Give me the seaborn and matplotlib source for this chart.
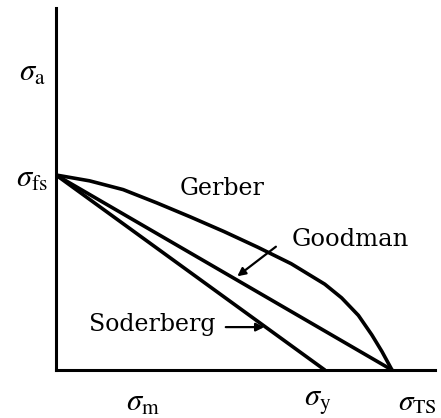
import numpy as np
import pandas as pd
import matplotlib
matplotlib.use('Agg')
import matplotlib.pyplot as plt
import seaborn as sns

# Normalised stresses (sigma_m / sigma_TS, sigma_a / sigma_fs)
sigma_ts = 1.0
sigma_y = 0.8
sigma_fs = 1.0

gerber_m = [0.0, 0.1, 0.2, 0.3, 0.4, 0.5, 0.6, 0.7, 0.8, 0.85, 0.9, 0.94, 0.97, 1.0]
gerber_a = [1.0, 0.97, 0.925, 0.857, 0.785, 0.71, 0.63, 0.545, 0.44, 0.37, 0.28, 0.18, 0.095, 0.0]
goodman_m = [0.0, sigma_ts]
goodman_a = [sigma_fs, 0.0]
soderberg_m = [0.0, sigma_y]
soderberg_a = [sigma_fs, 0.0]

sns.set_style('white')
plt.rcParams['font.family'] = ['DejaVu Serif']
plt.rcParams['mathtext.fontset'] = 'stix'
plt.rcParams['text.color'] = 'black'

fig = plt.figure(figsize=(4.41, 4.18), dpi=100)
ax = fig.add_axes([56 / 441, 48 / 418, 379 / 441, 362 / 418])

lines = pd.concat([
    pd.DataFrame({'m': gerber_m, 'a': gerber_a, 'crit': 'Gerber'}),
    pd.DataFrame({'m': goodman_m, 'a': goodman_a, 'crit': 'Goodman'}),
    pd.DataFrame({'m': soderberg_m, 'a': soderberg_a, 'crit': 'Soderberg'}),
])
for name, grp in lines.groupby('crit'):
    sns.lineplot(data=grp, x='m', y='a', ax=ax, color='black', lw=2.6,
                 sort=False, estimator=None, legend=False,
                 solid_joinstyle='round', solid_capstyle='round')

ax.set_xlim(0, 379 / 336)
ax.set_ylim(0, 362 / 195)
ax.set_xticks([])
ax.set_yticks([])
ax.set_xlabel('')
ax.set_ylabel('')
for s in ['top', 'right']:
    ax.spines[s].set_visible(False)
for s in ['left', 'bottom']:
    ax.spines[s].set_color('black')
    ax.spines[s].set_linewidth(2.2)

# curve labels
ax.text(0.494, 0.933, 'Gerber', fontsize=17, ha='center', va='center')
ax.text(0.875, 0.667, 'Goodman', fontsize=17.5, ha='center', va='center')
ax.text(0.286, 0.231, 'Soderberg', fontsize=17, ha='center', va='center')
ax.annotate('', xy=(0.533, 0.472), xytext=(0.661, 0.641),
            arrowprops=dict(arrowstyle='-|>', color='black', lw=1.6, mutation_scale=12))
ax.annotate('', xy=(0.628, 0.22), xytext=(0.497, 0.22),
            arrowprops=dict(arrowstyle='-|>', color='black', lw=1.6, mutation_scale=12))

# axis symbols
ax.text(-0.071, 1.528, r'$\sigma_{\mathrm{a}}$', fontsize=22, ha='center', va='center', clip_on=False)
ax.text(-0.071, 0.985, r'$\sigma_{\mathrm{fs}}$', fontsize=22, ha='center', va='center', clip_on=False)
ax.text(0.259, -0.164, r'$\sigma_{\mathrm{m}}$', fontsize=22, ha='center', va='center', clip_on=False)
ax.text(0.78, -0.164, r'$\sigma_{\mathrm{y}}$', fontsize=22, ha='center', va='center', clip_on=False)
ax.text(1.075, -0.164, r'$\sigma_{\mathrm{TS}}$', fontsize=21, ha='center', va='center', clip_on=False)

fig.savefig('out.png', dpi=100)
